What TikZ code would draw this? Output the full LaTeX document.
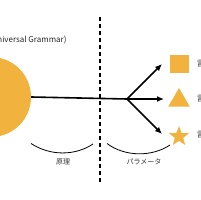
\documentclass[tikz,border=0pt]{standalone}
\usepackage{fontspec}
\setmainfont{Noto Sans CJK JP}
\usetikzlibrary{arrows.meta,shapes.geometric}
\definecolor{ug}{HTML}{F2B23E}
\tikzset{
  conn/.style={line width=1.6pt,-{Latex[length=7pt,width=6pt]}},
  shp/.style={fill=ug,draw=none,inner sep=0pt},
  lbl/.style={font=\fontsize{7}{8}\selectfont,text=black!80},
  brace/.style={line width=0.8pt},
}
\begin{document}
\begin{tikzpicture}[x=1pt,y=-1pt]
\useasboundingbox (0,0) rectangle (200,200);
\clip (0,0) rectangle (200,200);
\fill[white] (0,0) rectangle (200,200);
% universal grammar circle
\node[circle,shp,minimum size=80pt] (ug) at (-9,97) {};
\node[anchor=east,font=\fontsize{8}{9}\selectfont,text=black!85] (ugl) at (70,40) {普遍文法 (Universal Grammar)};
% dashed divider
\coordinate (dtop) at (100,17);
\coordinate (dbot) at (100,184);
\draw[line width=2pt,dash pattern=on 4pt off 3pt] (dtop) -- (dbot);
% shapes
\node[rectangle,shp,minimum size=18.5pt] (sq) at (179.5,64) {};
\node[regular polygon,regular polygon sides=3,shp,minimum size=25pt] (tri) at (179,100.5) {};
\node[star,star points=5,star point ratio=2.4,shp,minimum size=21pt] (st) at (179,136.5) {};
\node[anchor=west,lbl,font=\fontsize{8}{9}\selectfont] (la) at (193,64) {言語A};
\node[anchor=west,lbl,font=\fontsize{8}{9}\selectfont] (lb) at (193,99) {言語B};
\node[anchor=west,lbl,font=\fontsize{8}{9}\selectfont] (lc) at (193,135) {言語C};
% arrows
\coordinate (br) at (127,99);
\coordinate (ea) at (162,64);
\coordinate (eb) at (164,99);
\coordinate (ec) at (162,134);
\draw[line width=1.6pt] (ug.east) -- (br);
\draw[conn] (br) -- (eb);
\draw[conn] (br) -- (ea);
\draw[conn] (br) -- (ec);
% braces
\coordinate (a1) at (31,143.5);
\coordinate (a2) at (93,144);
\coordinate (b1) at (107,143.5);
\coordinate (b2) at (170,145);
\draw[brace] (a1) .. controls (50,156) and (75,156) .. (a2);
\draw[brace] (b1) .. controls (125,157) and (152,157) .. (b2);
\node[lbl] (pr) at (63,161.5) {原理};
\node[lbl] (pa) at (144,161.5) {パラメータ};
\end{tikzpicture}
\end{document}
